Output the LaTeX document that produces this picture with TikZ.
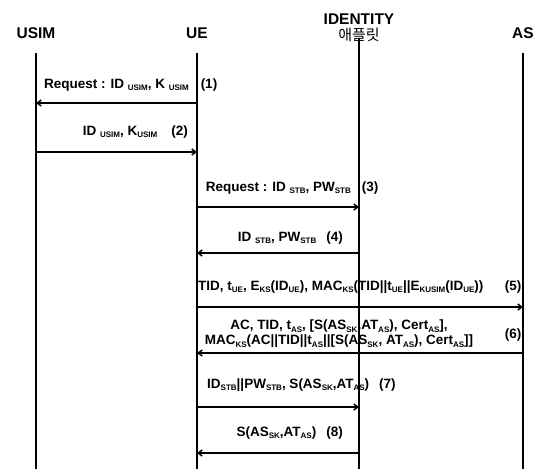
\documentclass[tikz,border=0pt]{standalone}
\usepackage{fontspec}
\setmainfont{Liberation Sans}
\newfontfamily\kofont{Noto Sans CJK KR}
\usetikzlibrary{positioning, arrows.meta}
\newcommand{\dn}[1]{\raisebox{-0.3ex}{\fontsize{8}{8}\selectfont #1}}

\begin{document}
\begin{tikzpicture}[x=1pt, y=-1pt,
    actor/.style={font=\fontsize{15.5}{16}\selectfont\bfseries, inner sep=0pt},
    life/.style={line width=1.5pt},
    msg/.style={line width=1.5pt, -{Straight Barb[length=4pt, width=6pt]}},
    lbl/.style={font=\fontsize{13.5}{15}\selectfont\bfseries, inner sep=0pt, align=center}
]
\useasboundingbox (0,0) rectangle (548,469);
\fill[white] (0,0) rectangle (548,469);

\node[actor] (usim) at (36,33) {USIM};
\node[actor] (ue) at (197,33) {UE};
\node[actor] (idt) at (359,19) {IDENTITY};
\node[below=3pt of idt, font=\kofont\fontsize{15}{15}\selectfont, inner sep=0pt] (app) {애플릿};
\node[actor] (as) at (523,33) {AS};

\coordinate (top) at (0,53);
\coordinate (bot) at (0,469);
\coordinate (m1) at (0,103);
\coordinate (m2) at (0,152);
\coordinate (m3) at (0,207);
\coordinate (m4) at (0,253);
\coordinate (m5) at (0,307);
\coordinate (m6) at (0,353);
\coordinate (m7) at (0,407);
\coordinate (m8) at (0,453);

\draw[life] (usim |- top) -- (usim |- bot);
\draw[life] (ue |- top) -- (ue |- bot);
\draw[life] ([yshift=4pt]app.south) -- (app |- bot);
\draw[life] (as |- top) -- (as |- bot);

\draw[msg] (ue |- m1) -- (usim |- m1);
\draw[msg] (usim |- m2) -- (ue |- m2);
\draw[msg] (ue |- m3) -- (app |- m3);
\draw[msg] (app |- m4) -- (ue |- m4);
\draw[msg] (ue |- m5) -- (as |- m5);
\draw[msg] (as |- m6) -- (ue |- m6);
\draw[msg] (ue |- m7) -- (app |- m7);
\draw[msg] (app |- m8) -- (ue |- m8);

\node[lbl, anchor=east] (l1) at (189,85) {Request : ID \dn{USIM}, K \dn{USIM}};
\node[lbl] (n1) at (209,85) {(1)};
\node[lbl, anchor=east] (l2) at (188,132) {ID \dn{USIM}, K\dn{USIM}\hspace{14pt}(2)};
\node[lbl, anchor=east] (l3) at (351,188) {Request : ID \dn{STB}, PW\dn{STB}};
\node[lbl] (n3) at (370,188) {(3)};
\node[lbl, anchor=east] (l4) at (343,238) {ID \dn{STB}, PW\dn{STB}\hspace{10pt}(4)};
\node[lbl, anchor=west] (l5) at (198,287) {TID, t\dn{UE}, E\dn{KS}(ID\dn{UE}), MAC\dn{KS}(TID||t\dn{UE}||E\dn{KUSIM}(ID\dn{UE}))};
\node[lbl] (n5) at (513,287) {(5)};
\node[lbl] (l6) at (339,334) {AC, TID, t\dn{AS}, [S(AS\dn{SK},AT\dn{AS}), Cert\dn{AS}],\\MAC\dn{KS}(AC||TID||t\dn{AS}||[S(AS\dn{SK}, AT\dn{AS}), Cert\dn{AS}]]};
\node[lbl] (n6) at (513,335) {(6)};
\node[lbl, anchor=west] (l7) at (207,385) {ID\dn{STB}||PW\dn{STB}, S(AS\dn{SK},AT\dn{AS})\hspace{10pt}(7)};
\node[lbl, anchor=east] (l8) at (343,433) {S(AS\dn{SK},AT\dn{AS})\hspace{10pt}(8)};
\end{tikzpicture}
\end{document}
